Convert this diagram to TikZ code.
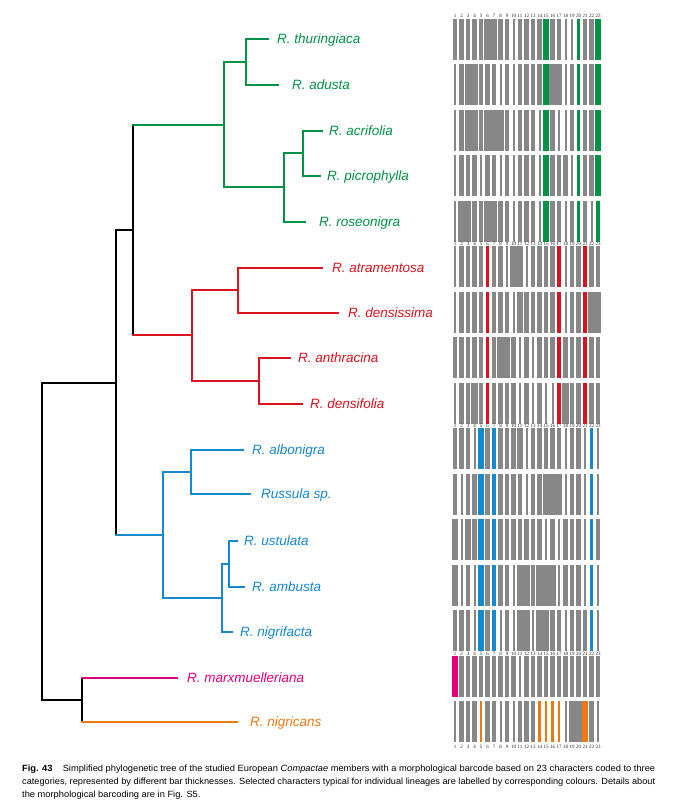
\documentclass[tikz,border=0pt]{standalone}
\usepackage{fontspec}
\setmainfont{Liberation Sans}
\newfontfamily\numfont{Liberation Serif}
\usepackage{graphicx}
\definecolor{barg}{RGB}{135,135,135}
\definecolor{cgreen}{RGB}{0,146,69}
\definecolor{cred}{RGB}{218,20,30}
\definecolor{cblue}{RGB}{20,137,204}
\definecolor{cmag}{RGB}{226,0,122}
\definecolor{corange}{RGB}{236,122,18}
\def\bwt{2.0}\def\bwm{4.4}\def\bww{6.8}
\def\bwT{2.6}\def\bwM{3.8}\def\bwW{6.8}
\def\bct{barg}\def\bcm{barg}\def\bcw{barg}
\def\bcT{\rowcol}\def\bcM{\rowcol}\def\bcW{\rowcol}
\newcommand\barrow[3]{%
  \def\rowcol{#2}%
  \pgfmathsetmacro\rtop{18.7+45.5*(#1-1)}%
  \pgfmathsetmacro\rbot{\rtop+41}%
  \foreach \cc [count=\ii] in {#3} {%
    \pgfmathsetmacro\xc{455+6.5*(\ii-1)}%
    \edef\bw{\csname bw\cc\endcsname}%
    \edef\bcol{\csname bc\cc\endcsname}%
    \fill[\bcol] (\xc-\bw/2,\rtop) rectangle (\xc+\bw/2,\rbot);
  }%
}
\newcommand\numrow[2]{%
  \foreach \ii in {1,...,23} {%
    \node[numst] (#1-\ii) at ({455+6.5*(\ii-1)},#2) {\ii};
  }%
}
\newcommand\elbow[6]{%
  \draw[br,#4] (#1|-#2) -- (#1|-#3);
  \draw[br,#5] (#1|-#2) -- (#2);
  \draw[br,#6] (#1|-#3) -- (#3);
}
\newcommand\capfont{\fontsize{9}{11}\selectfont}
\newsavebox\capboxA
\newlength\capw
\begin{document}
\sbox\capboxA{\capfont\textbf{Fig. 43}\hspace{1.1em}Simplified phylogenetic tree of the studied European \textit{Compactae} members with a morphological barcode based on 23 characters coded to three}%
\setlength\capw{\wd\capboxA}%
\pgfmathsetmacro\capsx{633/\capw}%
\begin{tikzpicture}[x=1pt,y=-1pt,
  br/.style={line width=1.8pt, line cap=rect},
  lab/.style={anchor=base west, inner sep=0pt, font=\fontsize{13.5}{15}\selectfont\itshape},
  numst/.style={inner sep=0pt, font=\numfont\fontsize{5}{5}\selectfont, text=black!85}]
\fill[white] (0,0) rectangle (673,802);
\useasboundingbox (0,0) rectangle (673,802);

% ---------------- tree ----------------
\coordinate (t1) at (268,39);
\coordinate (t2) at (278,85);
\coordinate (t3) at (322,131);
\coordinate (t4) at (320,176);
\coordinate (t5) at (305,222);
\coordinate (t6) at (322,268);
\coordinate (t7) at (338,313);
\coordinate (t8) at (290,358);
\coordinate (t9) at (302,404);
\coordinate (t10) at (243,450);
\coordinate (t11) at (250,494);
\coordinate (t12) at (237,541);
\coordinate (t13) at (244,587);
\coordinate (t14) at (232,632);
\coordinate (t15) at (177,678);
\coordinate (t16) at (237,722);
\coordinate (A) at (246,62);
\coordinate (B) at (303,153);
\coordinate (C) at (284,187);
\coordinate (D) at (224,125);
\coordinate (E) at (238,290);
\coordinate (F) at (259,381);
\coordinate (G) at (192,335);
\coordinate (H) at (133,230);
\coordinate (I) at (191,472);
\coordinate (J) at (229,564);
\coordinate (K) at (222,598);
\coordinate (L) at (163,535);
\coordinate (M) at (116,383);
\coordinate (N) at (82,700);
\coordinate (R) at (42,541);

\elbow{A}{t1}{t2}{cgreen}{cgreen}{cgreen}
\elbow{B}{t3}{t4}{cgreen}{cgreen}{cgreen}
\elbow{C}{B}{t5}{cgreen}{cgreen}{cgreen}
\elbow{D}{A}{C}{cgreen}{cgreen}{cgreen}
\elbow{E}{t6}{t7}{cred}{cred}{cred}
\elbow{F}{t8}{t9}{cred}{cred}{cred}
\elbow{G}{E}{F}{cred}{cred}{cred}
\elbow{H}{D}{G}{black}{cgreen}{cred}
\elbow{I}{t10}{t11}{cblue}{cblue}{cblue}
\elbow{J}{t12}{t13}{cblue}{cblue}{cblue}
\elbow{K}{J}{t14}{cblue}{cblue}{cblue}
\elbow{L}{I}{K}{cblue}{cblue}{cblue}
\elbow{M}{H}{L}{black}{black}{cblue}
\elbow{N}{t15}{t16}{black}{cmag}{corange}
\elbow{R}{M}{N}{black}{black}{black}

\node[lab,text=cgreen] (l1) at (277,43.8) {R. thuringiaca};
\node[lab,text=cgreen] (l2) at (292,89.8) {R. adusta};
\node[lab,text=cgreen] (l3) at (329,135.8) {R. acrifolia};
\node[lab,text=cgreen] (l4) at (327,180.8) {R. picrophylla};
\node[lab,text=cgreen] (l5) at (319,226.8) {R. roseonigra};
\node[lab,text=cred] (l6) at (332,272.8) {R. atramentosa};
\node[lab,text=cred] (l7) at (348,317.8) {R. densissima};
\node[lab,text=cred] (l8) at (298,362.8) {R. anthracina};
\node[lab,text=cred] (l9) at (310,408.8) {R. densifolia};
\node[lab,text=cblue] (l10) at (252,454.8) {R. albonigra};
\node[lab,text=cblue] (l11) at (261,498.8) {Russula sp.};
\node[lab,text=cblue] (l12) at (244,545.8) {R. ustulata};
\node[lab,text=cblue] (l13) at (252,591.8) {R. ambusta};
\node[lab,text=cblue] (l14) at (240,636.8) {R. nigrifacta};
\node[lab,text=cmag] (l15) at (187,682.8) {R. marxmuelleriana};
\node[lab,text=corange] (l16) at (250,726.8) {R. nigricans};

% ---------------- barcode ----------------
\barrow{1}{cgreen}{m,m,m,m,m,w,w,m,m,t,m,m,m,m,W,m,m,t,t,M,m,m,W}
\barrow{2}{cgreen}{t,m,w,w,m,m,m,t,m,t,m,m,m,m,W,w,w,t,m,T,m,m,W}
\barrow{3}{cgreen}{t,m,w,w,m,w,w,w,m,t,m,m,m,t,W,m,t,t,m,M,m,m,W}
\barrow{4}{cgreen}{t,m,m,m,t,m,m,t,m,t,m,m,m,t,W,m,m,m,t,M,m,m,W}
\barrow{5}{cgreen}{t,w,w,m,m,w,w,m,m,t,m,m,m,t,W,m,m,t,m,M,m,t,M}
\barrow{6}{cred}{t,m,m,m,m,M,m,m,t,w,w,t,m,m,m,m,M,t,m,m,M,m,m}
\barrow{7}{cred}{t,m,m,m,m,M,m,m,m,t,w,m,m,m,m,m,M,t,m,m,M,w,w}
\barrow{8}{cred}{m,m,m,m,m,M,m,w,w,m,t,m,t,m,m,m,M,m,m,m,M,m,m}
\barrow{9}{cred}{t,m,m,w,m,M,m,m,m,m,t,m,t,m,t,t,M,w,m,m,M,m,m}
\barrow{10}{cblue}{m,m,m,t,W,m,M,m,m,m,w,t,m,m,m,m,m,t,m,m,t,M,t}
\barrow{11}{cblue}{m,t,m,m,W,m,M,m,m,m,m,t,m,m,w,w,w,t,m,m,t,M,t}
\barrow{12}{cblue}{w,t,w,m,W,m,M,m,m,m,m,m,m,m,t,m,t,m,m,m,t,M,m}
\barrow{13}{cblue}{w,t,m,t,W,m,M,m,m,t,w,w,m,w,w,w,t,m,m,m,t,M,t}
\barrow{14}{cblue}{m,m,m,t,W,m,M,t,m,t,w,w,t,w,w,m,m,t,m,m,m,M,t}
\barrow{15}{cmag}{W,m,m,m,m,m,m,m,m,m,t,m,m,m,m,m,m,m,m,m,m,m,m}
\barrow{16}{corange}{t,m,m,m,T,m,m,t,m,t,m,m,m,T,T,T,T,t,w,w,W,m,t}

\numrow{na}{15.6}
\numrow{nb}{243.8}
\numrow{nc}{426}
\numrow{nd}{653.5}
\numrow{ne}{746.8}

% ---------------- caption ----------------
\node[anchor=base west, inner sep=0pt] (cap1) at (22,771) {\scalebox{\capsx}[1]{\usebox\capboxA}};
\node[anchor=base west, inner sep=0pt] (cap2) at (22,784) {\resizebox{633pt}{\height}{\capfont categories, represented by different bar thicknesses. Selected characters typical for individual lineages are labelled by corresponding colours. Details about}};
\node[anchor=base west, inner sep=0pt] (cap3) at (22,797) {\scalebox{\capsx}[1]{\capfont the morphological barcoding are in Fig. S5.}};
\end{tikzpicture}
\end{document}
